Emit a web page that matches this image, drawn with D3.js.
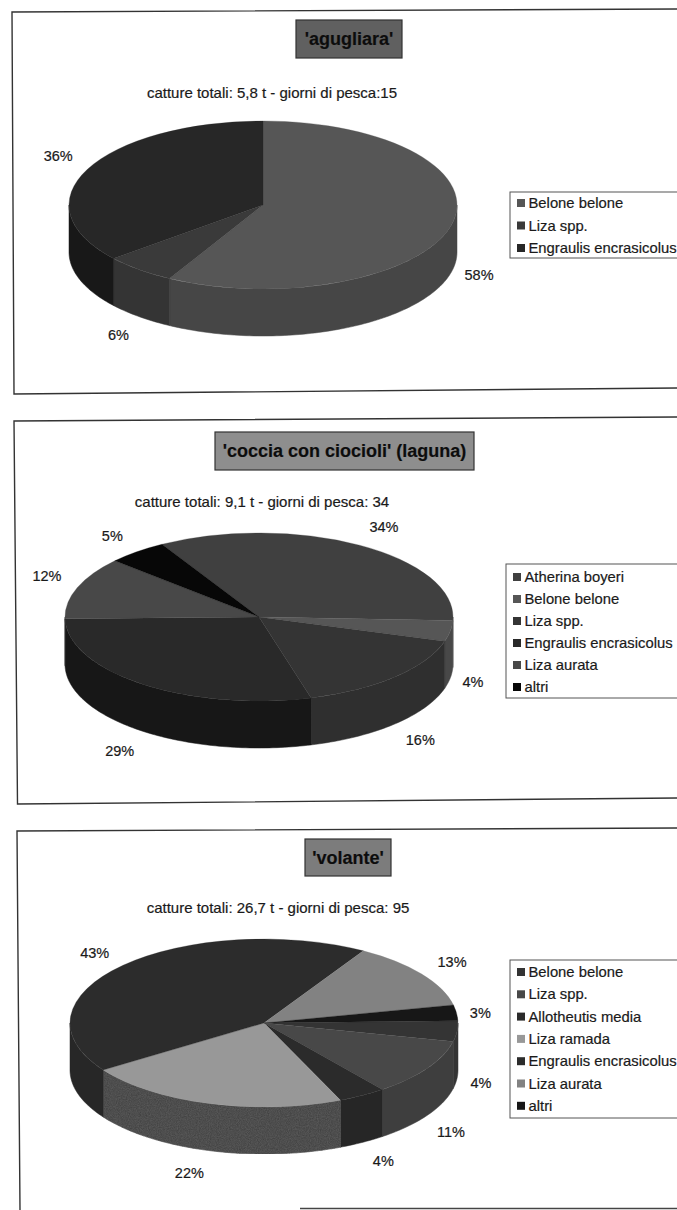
<!DOCTYPE html>
<html>
<head>
<meta charset="utf-8">
<script src="https://cdn.jsdelivr.net/npm/d3@7"></script>
<style>
  html, body { margin: 0; padding: 0; background: #fff; }
  svg { display: block; }
  text { font-family: "Liberation Sans", Arial, sans-serif; fill: #1a1a1a; stroke: #1a1a1a; stroke-width: 0.2; }
</style>
</head>
<body>
<svg id="chart" width="677" height="1210"></svg>
<script>
// agugliara
const speciesA = ["Belone belone", "Liza spp.", "Engraulis encrasicolus"];
const valuesA = [58, 6, 36];
const topA = ["#565656", "#3a3a3a", "#272727"];
const sideA = ["#464646", "#343434", "#181818"];
const nudgeA = [[1, -4], [-3, -2], [-4, -2]];

// coccia con ciocioli
const speciesB = ["Atherina boyeri", "Belone belone", "Liza spp.", "Engraulis encrasicolus", "Liza aurata", "altri"];
const valuesB = [34, 4, 16, 29, 12, 5];
const topB = ["#404040", "#565656", "#343434", "#292929", "#484848", "#070707"];
const sideB = ["#404040", "#484848", "#2f2f2f", "#171717", "#333333", "#070707"];
const nudgeB = [[10, 4], [-5, 0], [6, -3], [-7, -1], [-4, -3], [-7, 4]];

// volante
const speciesC = ["Belone belone", "Liza spp.", "Allotheutis media", "Liza ramada", "Engraulis encrasicolus", "Liza aurata", "altri"];
const valuesC = [4, 11, 4, 22, 43, 13, 3];
const topC = ["#343434", "#484848", "#2b2b2b", "#989898", "#2c2c2c", "#828282", "#171717"];
const sideC = ["#343434", "#3e3e3e", "#262626", "#444444", "#272727", "#666666", "#171717"];
const nudgeC = [[-4, 2], [0, 3], [7, -4], [-12, -3], [-8, 6], [8, 3], [-4, 3]];

const panels = [
  {
    title: "'agugliara'", sub: "catture totali: 5,8 t - giorni di pesca:15",
    species: speciesA, values: valuesA, top: topA, side: sideA, nudge: nudgeA,
    frame: [[677, 9], [12, 12], [14, 394], [677, 388]],
    titleBox: [296, 20, 106, 38], titleFill: "#606060",
    subX: 272, subY: 93, cx: 263, cy: 205, start: 0,
    legend: [510, 192, 66], legendRow: 203, legendStep: 22.5
  },
  {
    title: "'coccia con ciocioli' (laguna)", sub: "catture totali: 9,1 t - giorni di pesca: 34",
    species: speciesB, values: valuesB, top: topB, side: sideB, nudge: nudgeB,
    frame: [[677, 417], [14, 421], [17.5, 804], [677, 798]],
    titleBox: [215, 432, 259, 38], titleFill: "#8e8e8e",
    subX: 262, subY: 502, cx: 259, cy: 617, start: -30,
    legend: [506, 564, 134], legendRow: 577, legendStep: 22
  },
  {
    title: "'volante'", sub: "catture totali: 26,7 t - giorni di pesca: 95",
    species: speciesC, values: valuesC, top: topC, side: sideC, nudge: nudgeC,
    frame: [[677, 828], [17, 831], [20, 1210]],
    titleBox: [305, 839, 86, 37], titleFill: "#7c7c7c",
    subX: 278, subY: 908, cx: 264, cy: 1023, start: 88.4,
    legend: [510, 960, 158], legendRow: 972, legendStep: 22.3
  }
];

const rx = 194, ry = 84, depth = 47;
const labelRx = 222, labelRy = 110;

const svg = d3.select("#chart");

// grain for the speckled wall of the light slice
const grain = svg.append("defs").append("filter").attr("id", "grain")
  .attr("x", 0).attr("y", 0).attr("width", 1).attr("height", 1);
grain.append("feTurbulence")
  .attr("type", "fractalNoise").attr("baseFrequency", 0.9).attr("numOctaves", 2).attr("seed", 4);
grain.append("feColorMatrix")
  .attr("values", "0 0 0 0 0.1  0 0 0 0 0.1  0 0 0 0 0.1  1.6 0 0 0 -0.35");
grain.append("feComposite").attr("in2", "SourceAlpha").attr("operator", "in").attr("result", "dots");
const grainMerge = grain.append("feMerge");
grainMerge.append("feMergeNode").attr("in", "SourceGraphic");
grainMerge.append("feMergeNode").attr("in", "dots");

const rad = d => d * Math.PI / 180;
const line = d3.line();

// wall of a slice, only the part facing the viewer (90 to 270 degrees)
function wallPath(d) {
  const a0 = Math.max(d.startAngle, Math.PI / 2),
    a1 = Math.min(d.endAngle, 3 * Math.PI / 2);
  if (a1 <= a0) return null;
  const angles = d3.range(a0, a1, 0.02).concat(a1);
  const upper = angles.map(a => [Math.sin(a) * rx, -Math.cos(a) * ry]);
  const lower = upper.map(p => [p[0], p[1] + depth]).reverse();
  return line(upper.concat(lower)) + "Z";
}

panels.forEach(p => {
  const g = svg.append("g");

  g.append("path")
    .attr("d", line(p.frame))
    .attr("fill", "none").attr("stroke", "#333").attr("stroke-width", 1.4);

  // the third frame fades out along the bottom edge
  if (p.frame.length === 3) {
    g.append("line").attr("x1", 300).attr("x2", 677).attr("y1", 1208.5).attr("y2", 1208.5)
      .attr("stroke", "#444").attr("stroke-width", 1.5);
  }

  g.append("rect")
    .attr("x", p.titleBox[0]).attr("y", p.titleBox[1])
    .attr("width", p.titleBox[2]).attr("height", p.titleBox[3])
    .attr("fill", p.titleFill).attr("stroke", "#333").attr("stroke-width", 1.2);

  g.append("text")
    .attr("x", p.titleBox[0] + p.titleBox[2] / 2)
    .attr("y", p.titleBox[1] + p.titleBox[3] / 2 + 6)
    .attr("text-anchor", "middle")
    .attr("font-size", 18).attr("font-weight", "bold")
    .style("fill", "#0c0c0c")
    .text(p.title);

  g.append("text")
    .attr("x", p.subX).attr("y", p.subY + 5)
    .attr("text-anchor", "middle").attr("font-size", 15)
    .text(p.sub);

  const pie = d3.pie().sort(null)
    .startAngle(rad(p.start))
    .endAngle(rad(p.start + 360));
  const slices = pie(p.values);

  const color = d3.scaleOrdinal().domain(p.species).range(p.top);
  const wallColor = d3.scaleOrdinal().domain(p.species).range(p.side);

  const pieG = g.append("g").attr("transform", `translate(${p.cx},${p.cy})`);

  pieG.selectAll(".wall")
    .data(slices)
    .enter().append("path")
    .attr("class", "wall")
    .attr("d", wallPath)
    .attr("fill", (d, i) => wallColor(p.species[i]))
    .attr("stroke", (d, i) => wallColor(p.species[i]))
    .attr("stroke-width", 0.5)
    .attr("filter", (d, i) => p.species[i] === "Liza ramada" ? "url(#grain)" : null);

  const arc = d3.arc().innerRadius(0).outerRadius(rx);
  pieG.append("g")
    .attr("transform", `scale(1,${ry / rx})`)
    .selectAll(".slice")
    .data(slices)
    .enter().append("path")
    .attr("class", "slice")
    .attr("d", arc)
    .attr("fill", (d, i) => color(p.species[i]))
    .attr("stroke", (d, i) => color(p.species[i]))
    .attr("stroke-width", 0.4);

  // percentages sit outside the rim, dropped by the wall height on the lower half
  pieG.selectAll(".pct")
    .data(slices)
    .enter().append("text")
    .attr("class", "pct")
    .attr("x", (d, i) => Math.sin((d.startAngle + d.endAngle) / 2) * labelRx + p.nudge[i][0])
    .attr("y", (d, i) => {
      const c = Math.cos((d.startAngle + d.endAngle) / 2);
      return -c * labelRy + (c < 0 ? depth : 0) + 5 + p.nudge[i][1];
    })
    .attr("text-anchor", "middle").attr("font-size", 14.5)
    .text(d => d.value + "%");

  // legend box runs off the right side of the page
  const lg = g.append("g");
  lg.append("rect")
    .attr("x", p.legend[0]).attr("y", p.legend[1])
    .attr("width", 677 - p.legend[0] + 4).attr("height", p.legend[2])
    .attr("fill", "#fff").attr("stroke", "#555").attr("stroke-width", 1);

  const row = lg.selectAll(".row")
    .data(p.species)
    .enter().append("g")
    .attr("class", "row")
    .attr("transform", (d, i) => `translate(${p.legend[0] + 7},${p.legendRow + i * p.legendStep})`);
  row.append("rect")
    .attr("x", 0).attr("y", -4).attr("width", 8).attr("height", 8)
    .attr("fill", d => color(d));
  row.append("text")
    .attr("x", 11.5).attr("y", 5)
    .attr("font-size", 14.8)
    .text(d => d);
});
</script>
</body>
</html>
